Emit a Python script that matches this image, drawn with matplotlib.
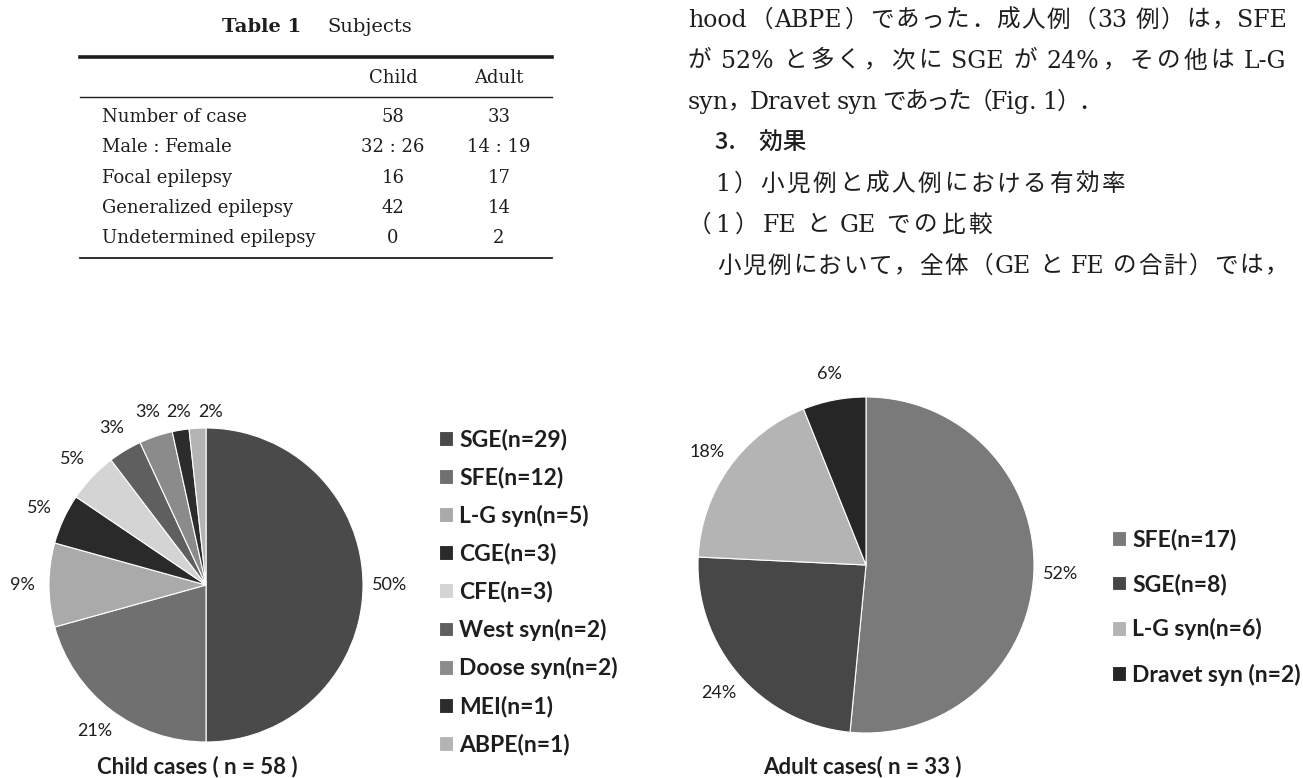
import re
import numpy as np
import matplotlib
matplotlib.use("Agg")
import matplotlib.pyplot as plt

W, H = 1303, 778

# Table 1
table_title = ["Table 1", "Subjects"]
table_cols = ["Child", "Adult"]
table_rows = ["Number of case", "Male : Female", "Focal epilepsy",
              "Generalized epilepsy", "Undetermined epilepsy"]
child_col = ["58", "32 : 26", "16", "42", "0"]
adult_col = ["33", "14 : 19", "17", "14", "2"]

# body text (right column)
body_lines = [
    "hood（ABPE）であった．成人例（33 例）は，SFE",
    "が 52% と多く，次に SGE が 24%，その他は L-G",
    "syn，Dravet syn であった（Fig. 1）．",
    "3.　効果",
    "1）小児例と成人例における有効率",
    "（1）FE と GE での比較",
    "小児例において，全体（GE と FE の合計）では，",
]

# Fig. 1 pies
child_labels = ["SGE(n=29)", "SFE(n=12)", "L-G syn(n=5)", "CGE(n=3)", "CFE(n=3)",
                "West syn(n=2)", "Doose syn(n=2)", "MEI(n=1)", "ABPE(n=1)"]
child_counts = [29, 12, 5, 3, 3, 2, 2, 1, 1]
adult_labels = ["SFE(n=17)", "SGE(n=8)", "L-G syn(n=6)", "Dravet syn (n=2)"]
adult_counts = [17, 8, 6, 2]
child_title = "Child cases ( n = 58 )"
adult_title = "Adult cases( n = 33 )"

child_colors = ["#4a4a4a", "#707070", "#aaaaaa", "#2a2a2a", "#d4d4d4",
                "#5f5f5f", "#8b8b8b", "#2c2c2c", "#b4b4b4"]
adult_colors = ["#7a7a7a", "#474747", "#b4b4b4", "#262626"]

ink = "#1e1e1e"
serif = "DejaVu Serif"
jp = ["DejaVu Serif", "Noto Sans CJK JP"]
sans = "Lato"

fig = plt.figure(figsize=(W / 100, H / 100), dpi=100)
fig.patch.set_facecolor("white")
bg = fig.add_axes([0, 0, 1, 1])
bg.set_xlim(0, W)
bg.set_ylim(H, 0)
bg.axis("off")

# ---- table ----
tfs = 13
bg.text(222, 27, table_title[0], family=serif, fontweight="bold", fontsize=14,
        color=ink, va="center", ha="left")
bg.text(327, 27, table_title[1], family=serif, fontsize=14, color=ink,
        va="center", ha="left")
bg.plot([80, 552], [57, 57], color=ink, lw=2.6)
bg.plot([80, 552], [97, 97], color=ink, lw=1.0)
bg.plot([80, 552], [258, 258], color=ink, lw=1.3)
col_x = [393, 499]
for cx, c in zip(col_x, table_cols):
    bg.text(cx, 78, c, family=serif, fontsize=tfs, color=ink, ha="center", va="center")
for i, (lab, a, b) in enumerate(zip(table_rows, child_col, adult_col)):
    y = 117 + i * 30.3
    bg.text(102, y, lab, family=serif, fontsize=tfs, color=ink, va="center")
    bg.text(col_x[0], y, a, family=serif, fontsize=tfs, color=ink, ha="center", va="center")
    bg.text(col_x[1], y, b, family=serif, fontsize=tfs, color=ink, ha="center", va="center")

# ---- body text, justified token by token ----
renderer = fig.canvas.get_renderer()
fs = 17
em = fs * 100 / 72
line_x0 = [688, 688, 688, 715, 715, 688, 717]
line_x1 = [1288, 1287, 1102, None, 1125, 992, 1288]


def is_cjk(ch):
    return ord(ch) > 0x2E80


def draw_line(s, x0, x1, yc, family, weight="normal"):
    toks = re.findall(r"[A-Za-z0-9.%:\-]+|\s+|.", s)
    items = []
    pad = 0
    for t in toks:
        if t.isspace():
            pad += 0.25 * em
            continue
        items.append((t, pad))
        pad = 0
    base = yc + 0.36 * em
    arts, widths = [], []
    for t, _ in items:
        if len(t) == 1 and is_cjk(t):
            a = bg.text(0, base, t, family=family, fontsize=fs, fontweight=weight,
                        color=ink, ha="center", va="baseline")
            w = em
        else:
            a = bg.text(0, base, t, family=family, fontsize=fs, fontweight=weight,
                        color=ink, ha="left", va="baseline")
            w = a.get_window_extent(renderer).width + 1
        arts.append(a)
        widths.append(w)
    natural = sum(widths) + sum(p for _, p in items[1:])
    gaps = max(len(items) - 1, 1)
    extra = (x1 - x0 - natural) / gaps
    x = x0
    for k, (a, w, (t, p)) in enumerate(zip(arts, widths, items)):
        if k > 0:
            x += p + extra
        if a.get_ha() == "center":
            a.set_x(x + w / 2)
        else:
            a.set_x(x)
        x += w


for i, s in enumerate(body_lines):
    yc = 18 + 41 * i
    if line_x1[i] is None:
        bg.text(line_x0[i], yc + 0.36 * em, s, family="Noto Sans CJK JP", fontsize=fs,
                fontweight="medium", color=ink, ha="left", va="baseline")
    else:
        draw_line(s, line_x0[i], line_x1[i], yc, jp)


# ---- pies ----
def pie_axes(cx, cy, r):
    return fig.add_axes([(cx - r) / W, 1 - (cy + r) / H, 2 * r / W, 2 * r / H])


def spread_top_labels(texts, min_dx=0.2, ymax=1.1):
    # keep small labels near the top from running into each other
    top = sorted([t for t in texts if t.get_position()[1] > 0.9],
                 key=lambda t: t.get_position()[0])
    prev = None
    for t in top:
        x, y = t.get_position()
        if prev is not None and x < prev + min_dx:
            x = prev + min_dx
        t.set_position((x, min(y, ymax)))
        prev = x


pct_style = dict(family=sans, fontsize=13, color=ink)
leg_style = dict(family=sans, weight="bold", size=16.5)

ax1 = pie_axes(206, 585, 157)
w1, _, p1 = ax1.pie(child_counts, colors=child_colors, startangle=90, counterclock=False,
                    autopct="%1.0f%%", pctdistance=1.17, textprops=pct_style,
                    wedgeprops=dict(edgecolor="white", linewidth=0.8))
spread_top_labels(p1)
ax1.set_xlim(-1, 1)
ax1.set_ylim(-1, 1)
ax1.legend(w1, child_labels, loc="center left", bbox_to_anchor=(439 / W, 1 - 592 / H),
           bbox_transform=fig.transFigure, frameon=False, prop=leg_style,
           handlelength=0.62, handleheight=0.62, handletextpad=0.26,
           labelspacing=0.71, borderpad=0, borderaxespad=0, labelcolor=ink)

ax2 = pie_axes(866, 565, 168)
w2, _, _ = ax2.pie(adult_counts, colors=adult_colors, startangle=90, counterclock=False,
                   autopct="%1.0f%%", pctdistance=1.16, textprops=pct_style,
                   wedgeprops=dict(edgecolor="white", linewidth=0.8))
ax2.set_xlim(-1, 1)
ax2.set_ylim(-1, 1)
ax2.legend(w2, adult_labels, loc="center left", bbox_to_anchor=(1112 / W, 1 - 607 / H),
           bbox_transform=fig.transFigure, frameon=False, prop=leg_style,
           handlelength=0.62, handleheight=0.62, handletextpad=0.26,
           labelspacing=1.01, borderpad=0, borderaxespad=0, labelcolor=ink)

bg.text(197, 767, child_title, family=sans, fontweight="bold", fontsize=16,
        color=ink, ha="center", va="center")
bg.text(862, 767, adult_title, family=sans, fontweight="bold", fontsize=16,
        color=ink, ha="center", va="center")

fig.savefig("out.png", dpi=100, facecolor="white")
